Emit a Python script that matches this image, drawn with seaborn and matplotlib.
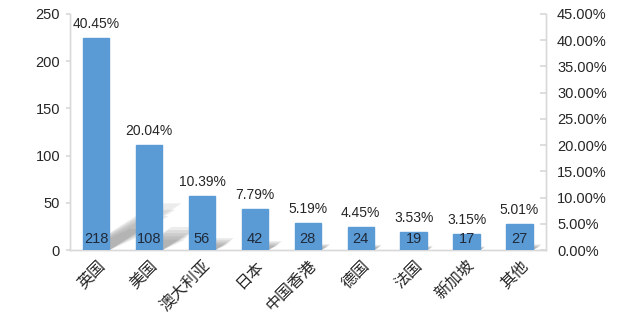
import matplotlib
matplotlib.use("Agg")
import matplotlib.pyplot as plt
from matplotlib.patches import Rectangle
from matplotlib.transforms import Affine2D
import seaborn as sns
import pandas as pd

categories = ["英国", "美国", "澳大利亚", "日本", "中国香港", "德国", "法国", "新加坡", "其他"]
counts = [218, 108, 56, 42, 28, 24, 19, 17, 27]
percents = [40.45, 20.04, 10.39, 7.79, 5.19, 4.45, 3.53, 3.15, 5.01]
left_ticks = [0, 50, 100, 150, 200, 250]
right_ticks = [0, 5, 10, 15, 20, 25, 30, 35, 40, 45]

sns.set_theme(style="white")
plt.rcParams["font.family"] = ["Liberation Sans", "Noto Sans CJK SC", "DejaVu Sans"]

df = pd.DataFrame({"cat": categories, "count": counts, "pct": percents})

fig = plt.figure(figsize=(6.4, 3.15), dpi=100)
ax = fig.add_axes([0.109, 0.206, 0.744, 0.750])
ax2 = ax.twinx()

sns.barplot(data=df, x="cat", y="pct", ax=ax2, color="#5b9bd5", width=0.5,
            saturation=1, edgecolor="#5b9bd5", zorder=3)

ax.set_ylim(0, 250)
ax.set_yticks(left_ticks)
ax.set_yticklabels([str(t) for t in left_ticks], fontsize=10.5, color="#262626")
ax2.set_ylim(0, 45)
ax2.set_yticks(right_ticks)
ax2.set_yticklabels([f"{t:.2f}%" for t in right_ticks], fontsize=10.5, color="#262626")
ax.set_xlim(-0.5, len(categories) - 0.5)
ax2.set_xlim(-0.5, len(categories) - 0.5)

ax.set_xticks(range(len(categories)))
ax.set_xticklabels(categories, rotation=45, ha="right", rotation_mode="anchor",
                   fontsize=11.5, family=["Noto Sans CJK SC"], color="#262626")
ax2.set_xlabel("")
ax2.set_ylabel("")
ax.set_ylabel("")

for a in (ax, ax2):
    a.spines["top"].set_visible(False)
    for s in ("left", "right", "bottom"):
        a.spines[s].set_color("#d9d9d9")
        a.spines[s].set_linewidth(1.0)
ax.tick_params(axis="y", direction="out", length=3, color="#d9d9d9", pad=4)
ax.tick_params(axis="x", length=0, pad=5)
ax2.tick_params(axis="y", direction="in", length=4, color="#d9d9d9", pad=8)

# soft cast shadows derived from the bars' own geometry
y0 = ax2.transData.transform((0, 0))[1]
bars = [p for p in ax2.patches if isinstance(p, Rectangle)]
for p in bars:
    for sx, sy in [(0.34, 0.22), (0.31, 0.19), (0.28, 0.16), (0.25, 0.13), (0.22, 0.10)]:
        shear = (Affine2D().translate(0, -y0)
                 + Affine2D.from_values(1, 0, sx, sy, 0, 0)
                 + Affine2D().translate(0, y0))
        sh = Rectangle((p.get_x(), p.get_y()), p.get_width(), p.get_height(),
                       transform=ax2.transData + shear, facecolor="#6e6e6e",
                       edgecolor="none", alpha=0.13, zorder=1)
        ax2.add_patch(sh)

for i, (c, p) in enumerate(zip(counts, percents)):
    ax2.annotate(f"{p:.2f}%", (i, p), xytext=(0, 5), textcoords="offset points",
                 ha="center", va="bottom", fontsize=10, color="#262626", zorder=4)
    ax2.annotate(str(c), (i, 0), xytext=(0, 3), textcoords="offset points",
                 ha="center", va="bottom", fontsize=10.5, color="#1f2a3a", zorder=4)

fig.savefig("out.png", dpi=100)
